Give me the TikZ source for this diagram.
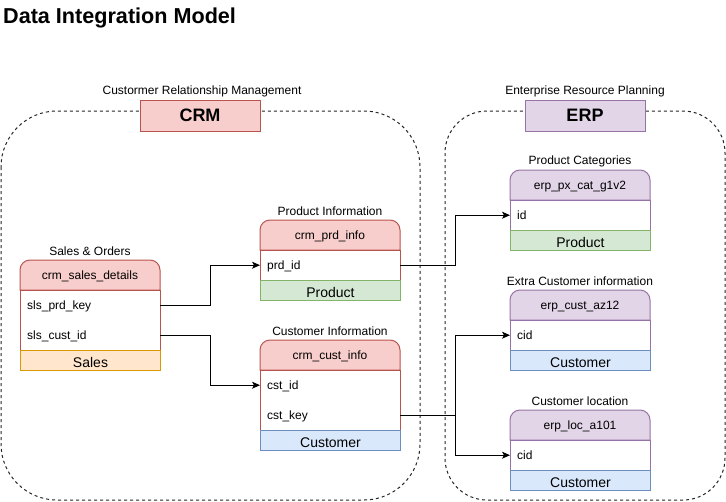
\documentclass[tikz,border=0pt]{standalone}
\usepackage{fontspec}
\setmainfont{Liberation Sans}
\usetikzlibrary{arrows.meta}
\definecolor{redF}{HTML}{F8CECC}
\definecolor{redD}{HTML}{B85450}
\definecolor{purF}{HTML}{E1D5E7}
\definecolor{purD}{HTML}{9673A6}
\definecolor{grnF}{HTML}{D5E8D4}
\definecolor{grnD}{HTML}{82B366}
\definecolor{orgF}{HTML}{FFE6CC}
\definecolor{orgD}{HTML}{D79B00}
\definecolor{bluF}{HTML}{DAE8FC}
\definecolor{bluD}{HTML}{6C8EBF}
\newcommand\fs[1]{\fontsize{#1pt}{#1pt}\selectfont}
% header shape with rounded top corners: x, y, fill, draw
\newcommand\hdrshape[4]{%
  \filldraw[fill=#3,draw=#4,line width=1pt] (#1,#2+30) -- (#1,#2+10)
    arc[start angle=180,end angle=270,radius=10] -- (#1+130,#2)
    arc[start angle=270,end angle=360,radius=10] -- (#1+140,#2+30) -- cycle;}
\tikzset{
  lbl/.style={font=\fs{12}, inner sep=0pt},
  hdrtxt/.style={font=\fs{12}, inner sep=0pt, text height=11.5pt, text depth=2pt},
  rowtxt/.style={font=\fs{12}, anchor=north west, minimum width=140pt, minimum height=30pt,
    text width=126pt, inner xsep=7pt, inner ysep=0pt, align=left, text height=11.5pt, text depth=2pt},
  footbox/.style={font=\fs{14}, anchor=north west, minimum width=140pt, minimum height=20pt,
    inner sep=0pt, line width=1pt, text height=13.5pt, text depth=0pt},
  groupbox/.style={line width=1pt, minimum width=120pt, minimum height=31pt, font=\fs{18}\bfseries, inner sep=0pt},
  container/.style={draw=black!85, dash pattern=on 3pt off 3pt, line width=1pt},
  conn/.style={draw=black, line width=1pt, -{Stealth[length=8pt,width=7pt,inset=2pt]}},
  body/.style={fill=white, line width=1pt},
}
\begin{document}
\begin{tikzpicture}[x=1pt,y=-1pt]
\useasboundingbox (0,0) rectangle (726,501);

\node[anchor=base west, font=\fs{21.6}\bfseries, inner sep=0pt] (title) at (3,23.5) {Data Integration Model};

% containers
\draw[container, rounded corners=56pt] (1,111) rectangle (420,500);
\draw[container, rounded corners=42pt] (445,111) rectangle (725,500);

\node[lbl] (crmlbl) at (202,91) {Custormer Relationship Management};
\node[groupbox, draw=redD, fill=redF] (crm) at (200,115.5) {CRM};
\node[lbl] (erplbl) at (585,91) {Enterprise Resource Planning};
\node[groupbox, draw=purD, fill=purF] (erp) at (585,115.5) {ERP};

% ---- crm_sales_details (20,260)
\node[lbl] (sdT) at (90,251) {Sales \& Orders};
\hdrshape{20}{260}{redF}{redD}
\draw[body, draw=redD] (20,290) rectangle (160,350);
\node[hdrtxt] (sdH) at (90,275) {crm\_sales\_details};
\node[rowtxt] (sd1) at (20,290) {sls\_prd\_key};
\node[rowtxt] (sd2) at (20,320) {sls\_cust\_id};
\node[footbox, draw=orgD, fill=orgF] (sdF) at (20,350) {Sales};

% ---- crm_prd_info (260,220)
\node[lbl] (piT) at (330,211) {Product Information};
\hdrshape{260}{220}{redF}{redD}
\draw[body, draw=redD] (260,250) rectangle (400,280);
\node[hdrtxt] (piH) at (330,235) {crm\_prd\_info};
\node[rowtxt] (pi1) at (260,250) {prd\_id};
\node[footbox, draw=grnD, fill=grnF] (piF) at (260,280) {Product};

% ---- crm_cust_info (260,340)
\node[lbl] (ciT) at (330,331) {Customer Information};
\hdrshape{260}{340}{redF}{redD}
\draw[body, draw=redD] (260,370) rectangle (400,430);
\node[hdrtxt] (ciH) at (330,355) {crm\_cust\_info};
\node[rowtxt] (ci1) at (260,370) {cst\_id};
\node[rowtxt] (ci2) at (260,400) {cst\_key};
\node[footbox, draw=bluD, fill=bluF] (ciF) at (260,430) {Customer};

% ---- erp_px_cat_g1v2 (510,170)
\node[lbl] (pcT) at (580,161) {Product Categories};
\hdrshape{510}{170}{purF}{purD}
\draw[body, draw=purD] (510,200) rectangle (650,230);
\node[hdrtxt] (pcH) at (580,185) {erp\_px\_cat\_g1v2};
\node[rowtxt] (pc1) at (510,200) {id};
\node[footbox, draw=grnD, fill=grnF] (pcF) at (510,230) {Product};

% ---- erp_cust_az12 (510,290)
\node[lbl] (caT) at (580,281) {Extra Customer information};
\hdrshape{510}{290}{purF}{purD}
\draw[body, draw=purD] (510,320) rectangle (650,350);
\node[hdrtxt] (caH) at (580,305) {erp\_cust\_az12};
\node[rowtxt] (ca1) at (510,320) {cid};
\node[footbox, draw=bluD, fill=bluF] (caF) at (510,350) {Customer};

% ---- erp_loc_a101 (510,410)
\node[lbl] (elT) at (580,401) {Customer location};
\hdrshape{510}{410}{purF}{purD}
\draw[body, draw=purD] (510,440) rectangle (650,470);
\node[hdrtxt] (elH) at (580,425) {erp\_loc\_a101};
\node[rowtxt] (el1) at (510,440) {cid};
\node[footbox, draw=bluD, fill=bluF] (elF) at (510,470) {Customer};

% connectors
\draw[conn] (sd1.east) -- ++(50,0) |- (pi1.west);
\draw[conn] (sd2.east) -- ++(50,0) |- (ci1.west);
\draw[conn] (pi1.east) -- ++(55,0) |- (pc1.west);
\draw[conn] (ci2.east) -- ++(55,0) |- (ca1.west);
\draw[conn] (ci2.east) -- ++(55,0) |- (el1.west);
\end{tikzpicture}
\end{document}
